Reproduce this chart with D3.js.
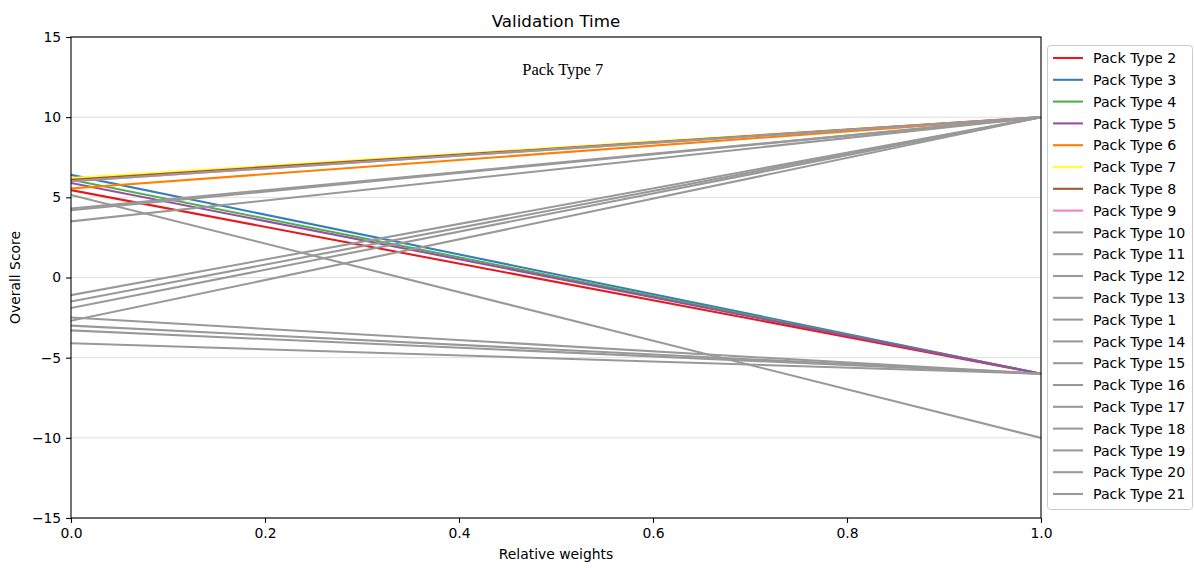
<!DOCTYPE html>
<html>
<head>
<meta charset="utf-8">
<script src="https://cdn.jsdelivr.net/npm/d3@7"></script>
<style>
  html, body { margin: 0; padding: 0; background: #fff; }
  svg { display: block; font-family: "DejaVu Sans", sans-serif; }
</style>
</head>
<body>
<svg id="chart" width="1194" height="568"></svg>
<script>
// Pack types in plotting/legend order
const packTypes = [
  "Pack Type 2", "Pack Type 3", "Pack Type 4", "Pack Type 5", "Pack Type 6",
  "Pack Type 7", "Pack Type 8", "Pack Type 9", "Pack Type 10", "Pack Type 11",
  "Pack Type 12", "Pack Type 13", "Pack Type 1", "Pack Type 14", "Pack Type 15",
  "Pack Type 16", "Pack Type 17", "Pack Type 18", "Pack Type 19", "Pack Type 20",
  "Pack Type 21"
];
// Overall score at relative weight 0 and at relative weight 1
const scoreAtZero = [
  5.45, 6.4, 6.1, 5.9, 5.55,
  6.2, 6.1, 6.0, 6.0, 4.3,
  4.2, 3.5, 5.15, -1.1, -1.5,
  -1.9, -2.7, -2.5, -3.0, -3.3,
  -4.1
];
const scoreAtOne = [
  -6, -6, -6, -6, 10,
  10, 10, 10, 10, 10,
  10, 10, -10, 10, 10,
  10, 10, -6, -6, -6,
  -6
];
const weights = [0, 1];
const xTicks = [0, 0.2, 0.4, 0.6, 0.8, 1.0];
const yTicks = [-15, -10, -5, 0, 5, 10, 15];
const highlighted = "Pack Type 7";

// Line colours: Set1 for the first eight pack types, grey for the rest
const palette = ["#e41a1c", "#377eb8", "#4daf4a", "#984ea3", "#ff7f00",
                 "#ffff33", "#a65628", "#f781bf"];
const otherColor = "#999999";

const svg = d3.select("#chart");
const plot = { left: 71, right: 1041, top: 37, bottom: 518 };

const x = d3.scaleLinear().domain([0, 1]).range([plot.left, plot.right]);
const y = d3.scaleLinear().domain([-15, 15]).range([plot.bottom, plot.top]);

// horizontal grid lines
svg.append("g")
  .selectAll("line")
  .data(yTicks)
  .join("line")
  .attr("x1", plot.left).attr("x2", plot.right)
  .attr("y1", d => y(d)).attr("y2", d => y(d))
  .attr("stroke", "#b0b0b0").attr("stroke-opacity", 0.4)
  .attr("stroke-width", 1);

const series = packTypes.map((name, i) => ({
  name,
  color: i < palette.length ? palette[i] : otherColor,
  points: weights.map((w, j) => [w, j === 0 ? scoreAtZero[i] : scoreAtOne[i]])
}));

const line = d3.line().x(d => x(d[0])).y(d => y(d[1]));

const clipId = "plot-clip";
svg.append("clipPath").attr("id", clipId)
  .append("rect")
  .attr("x", plot.left).attr("y", plot.top)
  .attr("width", plot.right - plot.left).attr("height", plot.bottom - plot.top);

svg.append("g")
  .attr("clip-path", `url(#${clipId})`)
  .selectAll("path")
  .data(series)
  .join("path")
  .attr("d", d => line(d.points))
  .attr("fill", "none")
  .attr("stroke", d => d.color)
  .attr("stroke-width", 2.08)
  .attr("stroke-linecap", "square");

// axes
const fmtX = d3.format(".1f");
const fmtY = d3.format("d");

const xAxis = svg.append("g")
  .attr("transform", `translate(0,${plot.bottom})`)
  .call(d3.axisBottom(x).tickValues(xTicks).tickFormat(fmtX)
        .tickSizeInner(4.9).tickSizeOuter(0).tickPadding(4.9));
const yAxis = svg.append("g")
  .attr("transform", `translate(${plot.left},0)`)
  .call(d3.axisLeft(y).tickValues(yTicks).tickFormat(fmtY)
        .tickSizeInner(4.9).tickSizeOuter(0).tickPadding(4.9));

[xAxis, yAxis].forEach(a => {
  a.select(".domain").remove();
  a.selectAll("text")
    .attr("font-family", "DejaVu Sans, sans-serif")
    .attr("font-size", 13.9).attr("fill", "#000");
  a.selectAll("line").attr("stroke", "#000").attr("stroke-width", 1.1);
});

// frame
svg.append("rect")
  .attr("x", plot.left).attr("y", plot.top)
  .attr("width", plot.right - plot.left).attr("height", plot.bottom - plot.top)
  .attr("fill", "none").attr("stroke", "#000").attr("stroke-width", 1.1);

// title and axis labels
svg.append("text")
  .attr("x", (plot.left + plot.right) / 2).attr("y", 27)
  .attr("text-anchor", "middle").attr("font-size", 16.7)
  .text("Validation Time");

svg.append("text")
  .attr("x", (plot.left + plot.right) / 2).attr("y", 559)
  .attr("text-anchor", "middle").attr("font-size", 13.9)
  .text("Relative weights");

svg.append("text")
  .attr("transform", `translate(20,${(plot.top + plot.bottom) / 2}) rotate(-90)`)
  .attr("text-anchor", "middle").attr("font-size", 13.9)
  .text("Overall Score");

// annotation naming the highlighted pack type
svg.append("text")
  .attr("x", x(0.507)).attr("y", y(12.6))
  .attr("text-anchor", "middle")
  .attr("font-family", "Liberation Serif, Times New Roman, serif")
  .attr("font-size", 16.5)
  .text(highlighted);

// legend
const legend = svg.append("g");
const lg = { x: 1047, y: 45, w: 146, h: 464, row: 21.8, first: 58 };
legend.append("rect")
  .attr("x", lg.x + 0.5).attr("y", lg.y + 0.5)
  .attr("width", lg.w - 1).attr("height", lg.h)
  .attr("rx", 3).attr("ry", 3)
  .attr("fill", "#fff").attr("fill-opacity", 0.8)
  .attr("stroke", "#cccccc").attr("stroke-width", 1);

const items = legend.selectAll("g.item")
  .data(series)
  .join("g")
  .attr("class", "item")
  .attr("transform", (d, i) => `translate(0,${lg.first + i * lg.row})`);
items.append("line")
  .attr("x1", lg.x + 6).attr("x2", lg.x + 36)
  .attr("y1", 0).attr("y2", 0)
  .attr("stroke", d => d.color).attr("stroke-width", 2.08);
items.append("text")
  .attr("x", lg.x + 46).attr("y", 0).attr("dy", "0.36em")
  .attr("font-size", 14.2)
  .text(d => d.name);
</script>
</body>
</html>
